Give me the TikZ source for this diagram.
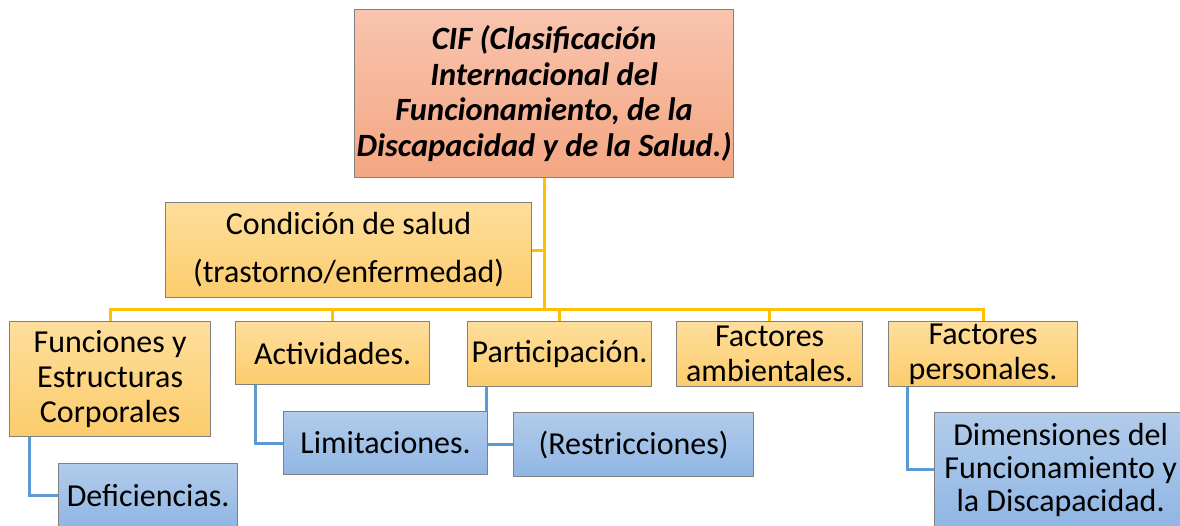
\documentclass[tikz,border=0pt]{standalone}
\usepackage{fontspec}
\setmainfont{Carlito}
\usetikzlibrary{positioning}
\definecolor{naranjaA}{RGB}{254,222,156}
\definecolor{naranjaB}{RGB}{252,204,108}
\definecolor{rosaA}{RGB}{248,196,174}
\definecolor{rosaB}{RGB}{244,166,130}
\definecolor{azulA}{RGB}{178,204,234}
\definecolor{azulB}{RGB}{144,182,228}
\definecolor{lineaAmarilla}{RGB}{255,192,0}
\definecolor{lineaAzul}{RGB}{91,155,213}
\pgfdeclarelayer{background}
\pgfsetlayers{background,main}

\begin{document}
\begin{tikzpicture}[x=1pt,y=-1pt,
    caja/.style={draw=black!50,line width=1.2pt,anchor=north west,inner sep=0pt,
        align=center,font=\fontsize{32}{35}\selectfont},
    naranja/.style={caja,top color=naranjaA,bottom color=naranjaB},
    rosa/.style={caja,top color=rosaA,bottom color=rosaB},
    azul/.style={caja,top color=azulA,bottom color=azulB},
    tronco/.style={draw=lineaAmarilla,line width=3pt},
    rama/.style={draw=lineaAzul,line width=3pt}]

  \useasboundingbox (0,0) rectangle (1180,525);

  \node[rosa,minimum width=379pt,minimum height=168pt,font=\fontsize{32.5}{35.5}\selectfont] (CIF) at (354,9)
    {\bfseries\itshape CIF (Clasificación\\ \bfseries\itshape Internacional del\\
     \bfseries\itshape Funcionamiento, de la\\ \bfseries\itshape Discapacidad y de la Salud.)};
  \node[naranja,minimum width=366pt,minimum height=95pt,font=\fontsize{32}{48}\selectfont]
    (Condicion) at (165,202) {Condición de salud\\(trastorno/enfermedad)};

  \node[naranja,minimum width=201pt,minimum height=115pt] (Funciones) at (9,321)
    {Funciones y\\Estructuras\\Corporales};
  \node[naranja,minimum width=194pt,minimum height=63pt] (Actividades) at (235,321) {Actividades.};
  \node[naranja,minimum width=184pt,minimum height=65pt] (Participacion) at (467,321) {Participación.};
  \node[naranja,minimum width=186pt,minimum height=65pt] (Ambientales) at (676,321) {Factores\\ambientales.};
  \node[naranja,minimum width=189pt,minimum height=65pt] (Personales) at (888,321) {Factores\\personales.};

  \node[azul,minimum width=179pt,minimum height=63pt] (Deficiencias) at (58,463) {Deficiencias.};
  \node[azul,minimum width=204pt,minimum height=63pt] (Limitaciones) at (283,411) {Limitaciones.};
  \node[azul,minimum width=240pt,minimum height=64pt] (Restricciones) at (513,412) {(Restricciones)};
  \node[azul,minimum width=252pt,minimum height=114pt,font=\fontsize{32}{33}\selectfont]
    (Dimensiones) at (934,412) {Dimensiones del\\Funcionamiento y\\la Discapacidad.};

  \coordinate (Bus) at (0,309);

  \begin{pgfonlayer}{background}
    \draw[tronco] (CIF.south) |- (Condicion.east);
    \foreach \n in {Funciones,Actividades,Participacion,Ambientales,Personales}
      \draw[tronco] (CIF.south) |- (Bus -| \n.north) -- (\n.north);

    \draw[rama] ([xshift=20pt]Funciones.south west) |- (Deficiencias.west);
    \draw[rama] ([xshift=20pt]Actividades.south west) |- (Limitaciones.west);
    \draw[rama] ([xshift=19pt]Participacion.south west) |- (Restricciones.west);
    \draw[rama] ([xshift=19pt]Personales.south west) |- (Dimensiones.west);
  \end{pgfonlayer}

\end{tikzpicture}
\end{document}
